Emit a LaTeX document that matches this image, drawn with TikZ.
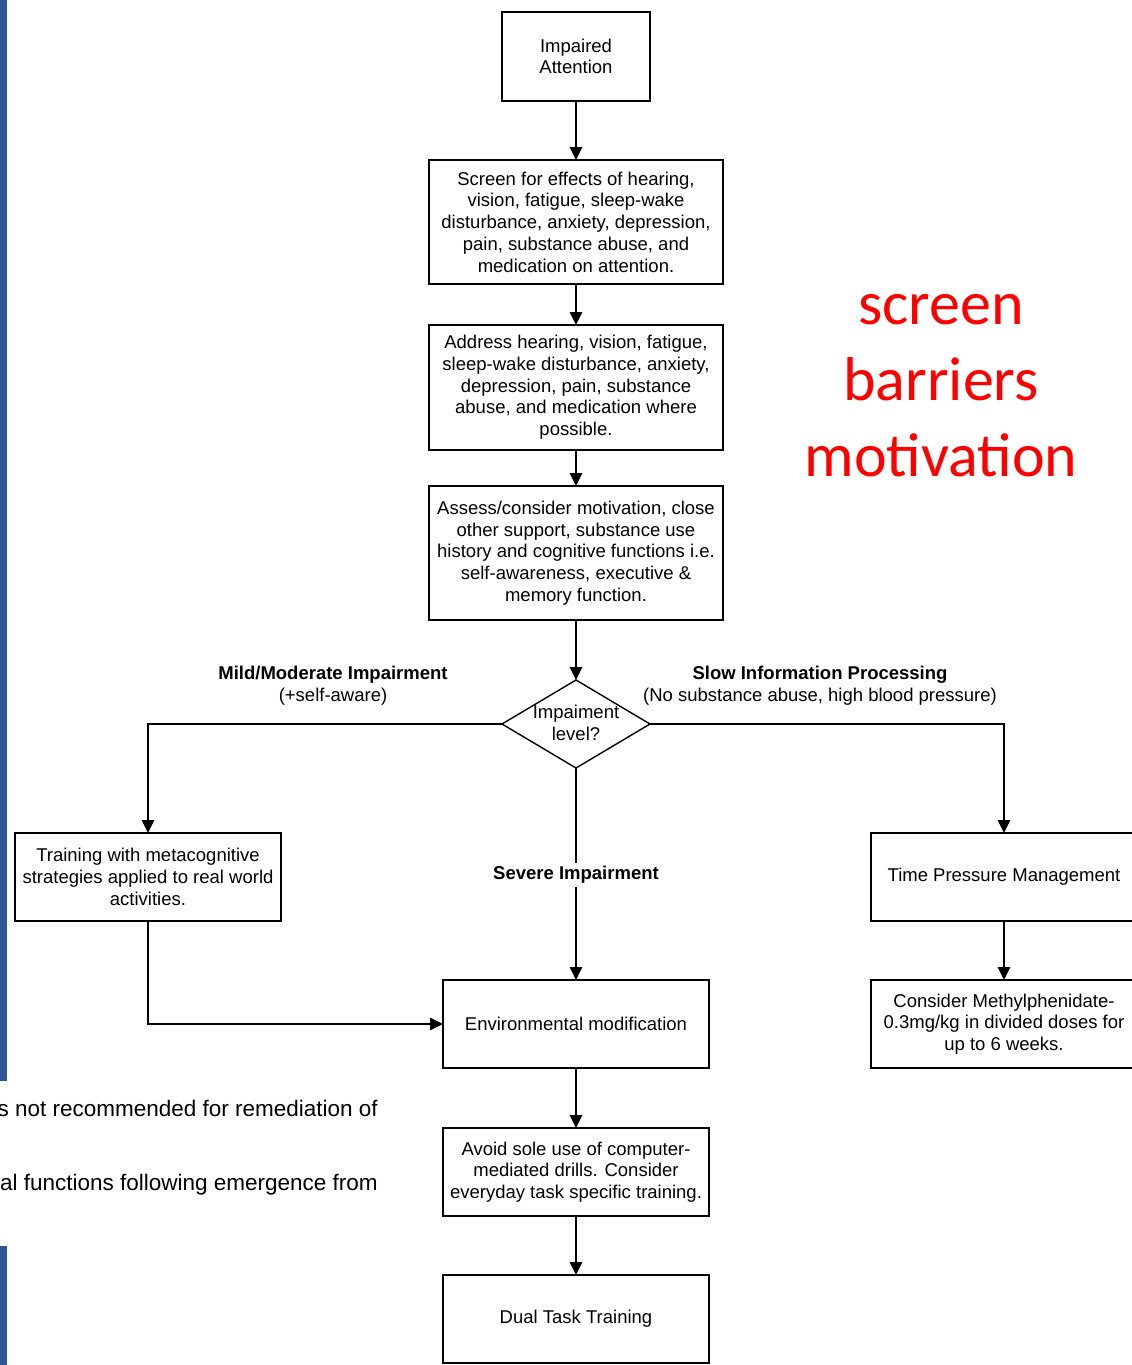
\documentclass[tikz,border=0pt]{standalone}
\usepackage{fontspec}
\setmainfont{Liberation Sans}
\newfontfamily\redfont{Carlito}
\usetikzlibrary{arrows.meta,shapes.geometric}
\definecolor{barblue}{RGB}{47,85,151}
\definecolor{redtxt}{RGB}{255,0,0}
\begin{document}
\begin{tikzpicture}[x=1pt,y=-1pt,
  box/.style={draw, line width=1.4pt, inner sep=0pt, outer sep=0pt, align=center,
    font=\fontsize{18.5}{21.7}\selectfont},
  lbl/.style={inner sep=1pt, align=center, font=\fontsize{18.5}{22}\selectfont},
  arr/.style={-{Triangle[length=13pt,width=12.5pt]}, line width=1.4pt}
]
\useasboundingbox (0,0) rectangle (1132,1365);
\fill[white] (0,0) rectangle (1132,1365);
% blue bars at left edge
\fill[barblue] (0,0) rectangle (7,1081);
\fill[barblue] (0,1246) rectangle (7,1365);

% nodes
\node[box, minimum width=148, minimum height=89] (ia) at (576,56.5) {Impaired\\Attention};
\node[box, minimum width=294, minimum height=124] (scr) at (576,222) {Screen for effects of hearing,\\vision, fatigue, sleep-wake\\disturbance, anxiety, depression,\\pain, substance abuse, and\\medication on attention.};
\node[box, minimum width=294, minimum height=125] (addr) at (576,387.5) {Address hearing, vision, fatigue,\\sleep-wake disturbance, anxiety,\\depression, pain, substance\\abuse, and medication where\\possible.};
\node[box, minimum width=294, minimum height=134] (assess) at (576,553) {Assess/consider motivation, close\\other support, substance use\\history and cognitive functions i.e.\\self-awareness, executive \&\\memory function.};
\node[draw, line width=1.4pt, diamond, inner sep=0pt, outer sep=0pt, minimum width=148, minimum height=88] (dec) at (576,724) {};
\node[lbl, inner sep=0pt] (dectext) at (576,723) {Impaiment\\level?};
\node[box, minimum width=266, minimum height=88] (train) at (148,877) {Training with metacognitive\\strategies applied to real world\\activities.};
\node[box, minimum width=266, minimum height=88] (time) at (1004,877) {Time Pressure Management};
\node[box, minimum width=266, minimum height=88] (env) at (576,1024) {Environmental modification};
\node[box, minimum width=266, minimum height=88] (meth) at (1004,1024) {Consider Methylphenidate-\\0.3mg/kg in divided doses for\\up to 6 weeks.};
\node[box, minimum width=266, minimum height=88] (avoid) at (576,1172) {Avoid sole use of computer-\\mediated drills. Consider\\everyday task specific training.};
\node[box, minimum width=266, minimum height=88] (dual) at (576,1319) {Dual Task Training};

% connectors
\draw[arr] (ia) -- (scr);
\draw[arr] (scr) -- (addr);
\draw[arr] (addr) -- (assess);
\draw[arr] (assess) -- (dec.north);
\draw[arr] (dec.west) -| (train.north);
\draw[arr] (dec.east) -| (time.north);
\draw[arr] (dec.south) -- (env.north);
\draw[arr] (train.south) |- (env.west);
\draw[arr] (time) -- (meth);
\draw[arr] (env) -- (avoid);
\draw[arr] (avoid) -- (dual);

% branch labels
\node[lbl] (mild) at (333,686) {\textbf{Mild/Moderate Impairment}\\(+self-aware)};
\node[lbl] (slow) at (820,686) {\textbf{Slow Information Processing}\\(No substance abuse, high blood pressure)};
\node[lbl, fill=white, inner sep=3pt] (severe) at (576,875) {\textbf{Severe Impairment}};

% red annotation
\node[align=center, text=redtxt, inner sep=0pt, font=\redfont\fontsize{62}{76}\selectfont] (red) at (941,386) {screen\\barriers\\motivation};

% cut-off slide text at left
\node[anchor=east, inner sep=0pt, font=\fontsize{22.5}{26}\selectfont] (cut1) at (378,1108) {s not recommended for remediation of};
\node[anchor=east, inner sep=0pt, font=\fontsize{22.5}{26}\selectfont] (cut2) at (378,1185) {al functions following emergence from};
\end{tikzpicture}
\end{document}
